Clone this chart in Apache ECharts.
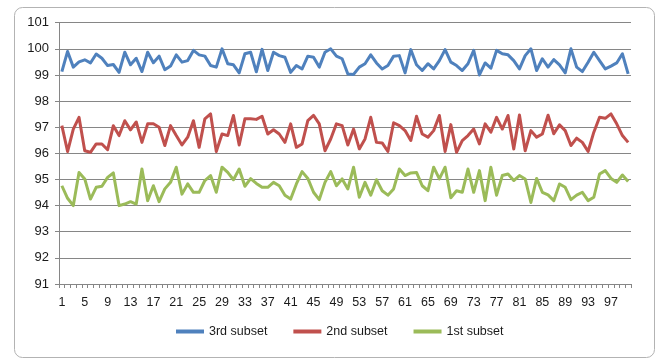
<!DOCTYPE html>
<html>
<head>
<meta charset="utf-8">
<script src="https://cdn.jsdelivr.net/npm/echarts@6/dist/echarts.min.js"></script>
<style>
  html, body { margin: 0; padding: 0; background: #fff; }
  #chart { width: 657px; height: 358px; }
</style>
</head>
<body>
<div id="chart"></div>
<script>
// Sample indices 1..100
const categories = [];
for (let i = 1; i <= 100; i++) categories.push(String(i));

const seriesNames = ['3rd subset', '2nd subset', '1st subset'];

const subset3 = [
  99.13, 99.9, 99.3, 99.5, 99.58, 99.46, 99.8, 99.64, 99.36, 99.4,
  99.1, 99.87, 99.39, 99.64, 99.13, 99.87, 99.47, 99.72, 99.2, 99.34,
  99.77, 99.49, 99.55, 99.94, 99.77, 99.72, 99.36, 99.3, 100.0, 99.43,
  99.39, 99.08, 99.81, 99.87, 99.12, 99.98, 99.17, 99.87, 99.74, 99.68,
  99.1, 99.36, 99.23, 99.72, 99.68, 99.3, 99.87, 100.0, 99.72, 99.62,
  99.04, 99.02, 99.3, 99.43, 99.77, 99.46, 99.23, 99.36, 99.72, 99.74,
  99.08, 99.97, 99.39, 99.17, 99.43, 99.23, 99.55, 99.97, 99.49, 99.36,
  99.17, 99.43, 99.94, 99.0, 99.46, 99.26, 99.94, 99.81, 99.77, 99.55,
  99.23, 99.74, 100.0, 99.17, 99.62, 99.3, 99.59, 99.39, 99.08, 100.0,
  99.3, 99.13, 99.49, 99.87, 99.55, 99.23, 99.34, 99.46, 99.81, 99.04
];

const subset2 = [
  97.06, 96.07, 96.93, 97.38, 96.1, 96.04, 96.36, 96.36, 96.14, 97.06,
  96.68, 97.25, 96.9, 97.2, 96.42, 97.13, 97.13, 97.0, 96.3, 97.06,
  96.68, 96.32, 96.62, 97.25, 96.23, 97.32, 97.51, 96.07, 96.74, 96.68,
  97.45, 96.32, 97.32, 97.32, 97.3, 97.42, 96.74, 96.9, 96.74, 96.42,
  97.13, 96.23, 96.36, 97.25, 97.45, 97.13, 96.1, 96.55, 97.13, 97.06,
  96.32, 96.93, 96.17, 96.55, 97.38, 96.42, 96.4, 96.07, 97.17, 97.06,
  96.87, 96.49, 97.42, 96.74, 96.62, 96.87, 97.45, 96.07, 97.1, 96.04,
  96.49, 96.68, 96.93, 96.36, 97.13, 96.81, 97.38, 96.93, 97.45, 96.17,
  97.47, 96.1, 96.87, 96.62, 96.74, 97.46, 96.75, 97.09, 96.87, 96.3,
  96.58, 96.42, 96.07, 96.81, 97.38, 97.34, 97.51, 97.13, 96.68, 96.42
];

const subset1 = [
  94.76, 94.28, 94.0, 95.27, 95.02, 94.25, 94.7, 94.74, 95.08, 95.25,
  94.0, 94.06, 94.15, 94.06, 95.4, 94.19, 94.76, 94.15, 94.64, 94.89,
  95.47, 94.44, 94.83, 94.51, 94.51, 94.96, 95.15, 94.51, 95.47, 95.27,
  94.99, 95.4, 94.74, 95.03, 94.85, 94.7, 94.7, 94.89, 94.76, 94.4,
  94.25, 94.83, 95.3, 95.04, 94.51, 94.23, 94.89, 95.3, 94.76, 95.02,
  94.64, 95.47, 94.32, 94.89, 94.4, 94.99, 94.57, 94.4, 94.64, 95.4,
  95.15, 95.25, 95.27, 94.76, 94.57, 95.47, 95.02, 95.47, 94.3, 94.57,
  94.51, 95.4, 94.51, 95.34, 94.19, 95.47, 94.4, 95.15, 95.21, 94.96,
  95.15, 95.02, 94.12, 95.04, 94.51, 94.41, 94.19, 94.83, 94.7, 94.23,
  94.4, 94.51, 94.19, 94.32, 95.21, 95.34, 95.04, 94.89, 95.17, 94.92
];

const colors = ['#4F81BD', '#C0504D', '#9BBB59'];
const font = 'Liberation Sans';

const chart = echarts.init(document.getElementById('chart'), null, { renderer: 'canvas' });

function lineSeries(name, data, color) {
  return {
    name: name,
    type: 'line',
    data: data,
    symbol: 'none',
    smooth: false,
    lineStyle: { color: color, width: 3, join: 'round' },
    itemStyle: { color: color },
    animation: false
  };
}

chart.setOption({
  animation: false,
  backgroundColor: '#ffffff',
  color: colors,
  graphic: [{
    type: 'rect',
    left: 12, top: 5,
    shape: { width: 640, height: 350, r: 8 },
    style: { fill: 'none', stroke: '#B3B3B3', lineWidth: 1 },
    z: -1
  }],
  grid: { left: 59, right: 26, top: 22.7, bottom: 74 },
  legend: {
    data: seriesNames,
    bottom: 15,
    left: 171,
    itemWidth: 28,
    itemHeight: 4,
    itemGap: 26,
    icon: 'rect',
    textStyle: { fontFamily: font, fontSize: 12.5, color: '#1a1a1a' }
  },
  xAxis: {
    type: 'category',
    data: categories,
    boundaryGap: true,
    axisLine: { lineStyle: { color: '#868686', width: 1 } },
    axisTick: { show: true, interval: 0, length: 4, lineStyle: { color: '#868686' } },
    axisLabel: {
      interval: 3,
      fontFamily: font,
      fontSize: 12.5,
      color: '#1a1a1a',
      margin: 12
    },
    splitLine: { show: false }
  },
  yAxis: {
    type: 'value',
    min: 91,
    max: 101,
    interval: 1,
    axisLine: { show: true, lineStyle: { color: '#868686', width: 1 } },
    axisTick: { show: true, length: 4, lineStyle: { color: '#868686' } },
    axisLabel: { fontFamily: font, fontSize: 13, color: '#1a1a1a', margin: 10 },
    splitLine: { lineStyle: { color: '#868686', width: 1 } }
  },
  series: [
    lineSeries(seriesNames[0], subset3, colors[0]),
    lineSeries(seriesNames[1], subset2, colors[1]),
    lineSeries(seriesNames[2], subset1, colors[2])
  ]
});
</script>
</body>
</html>
